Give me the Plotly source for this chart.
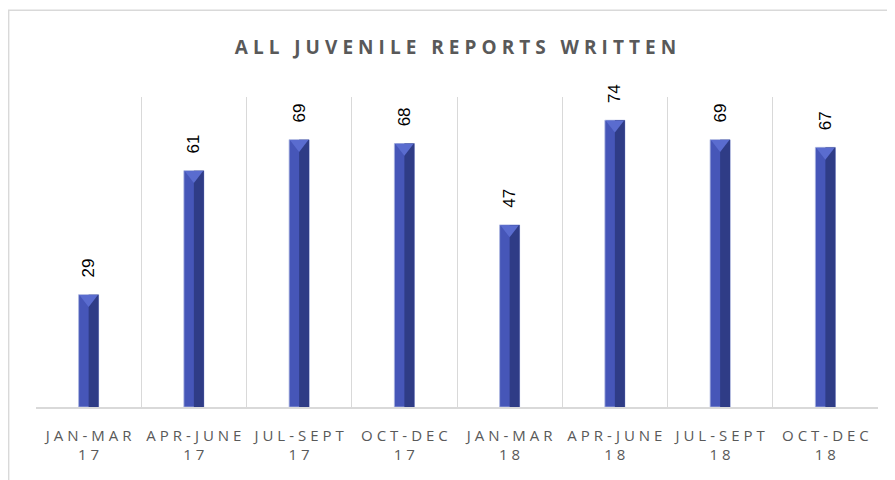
import plotly.graph_objects as go

# data
trimestres = ["JAN-MAR", "APR-JUNE", "JUL-SEPT", "OCT-DEC",
              "JAN-MAR", "APR-JUNE", "JUL-SEPT", "OCT-DEC"]
anios = ["17", "17", "17", "17", "18", "18", "18", "18"]
informes = [29, 61, 69, 68, 47, 74, 69, 67]

TITULO = "ALL JUVENILE REPORTS WRITTEN"
GRIS = "#595959"
LINEA = "#d9d9d9"
AZUL = "#4656b8"
AZUL_OSC = "#2f3c86"
AZUL_CLARO = "#5a6ccf"

SEP = "\u2009\u200a"


def espaciar(txt, sep=SEP):
    """Imita el espaciado entre letras con espacios finos."""
    return sep.join(txt)


etiquetas = [f"{espaciar(t)}<br>{espaciar(a)}" for t, a in zip(trimestres, anios)]
cats = [f"c{i}" for i in range(len(informes))]
textos = ["\u00a0\u00a0\u00a0" + str(v) for v in informes]

fig = go.Figure()

# cara izquierda (toda la barra)
fig.add_trace(go.Bar(
    x=cats, y=informes, width=0.19, offset=-0.095,
    marker=dict(color=AZUL, line=dict(color="#aab4e0", width=0.8)),
    text=textos, textposition="outside", textangle=-90,
    constraintext="none",
    textfont=dict(family="Liberation Sans, Arial", size=17, color="#000000"),
    cliponaxis=False, hoverinfo="skip",
))
# cara derecha más oscura
fig.add_trace(go.Bar(
    x=cats, y=informes, width=0.095, offset=0,
    marker=dict(color=AZUL_OSC, line=dict(width=0)),
    hoverinfo="skip",
))
# remate superior en triángulo
fig.add_trace(go.Scatter(
    x=cats, y=[v - 1.1 for v in informes], mode="markers",
    marker=dict(symbol="triangle-down", size=16, color=AZUL_CLARO,
                line=dict(width=0)),
    hoverinfo="skip", cliponaxis=False,
))

fig.update_layout(
    width=895, height=480,
    barmode="overlay", showlegend=False,
    plot_bgcolor="white", paper_bgcolor="white",
    margin=dict(l=28, r=25, t=89, b=81, autoexpand=False),
    title=dict(
        text=f"<b>{'   '.join(espaciar(w) for w in TITULO.split(' '))}</b>",
        x=0.5, xanchor="center", y=0.919, yanchor="middle",
        font=dict(family="Open Sans", size=19, color=GRIS),
    ),
    xaxis=dict(
        type="category", tickson="boundaries",
        tickvals=cats, ticktext=etiquetas,
        showgrid=True, gridcolor=LINEA, gridwidth=1,
        showline=True, linecolor=LINEA, linewidth=1.5,
        ticks="", ticklabelstandoff=14, automargin=False,
        tickfont=dict(family="Open Sans", size=15, color=GRIS),
        range=[-0.5, 7.5], fixedrange=True,
    ),
    yaxis=dict(
        range=[0, 80], showgrid=False, zeroline=False,
        showticklabels=False, fixedrange=True, automargin=False,
    ),
    shapes=[dict(
        type="rect", xref="paper", yref="paper",
        x0=-0.0325, x1=1.03, y0=-0.3, y1=1.28,
        line=dict(color=LINEA, width=1.5), fillcolor="rgba(0,0,0,0)",
        layer="below",
    )],
)

fig.write_html("out.html")
